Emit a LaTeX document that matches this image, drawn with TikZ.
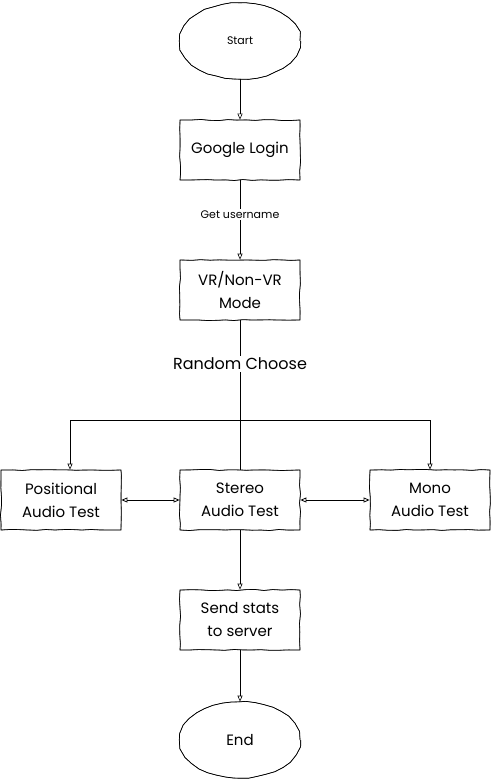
\documentclass[tikz,border=0pt]{standalone}
\usepackage{fontspec}
\setmainfont{Poppins}
\usetikzlibrary{arrows.meta,shapes.geometric,decorations.pathmorphing,calc}
\begin{document}
\begin{tikzpicture}[x=1pt,y=-1pt,
  rough/.style={decorate,decoration={random steps,segment length=9pt,amplitude=0.5pt}},
  box/.style={draw,rough,line width=0.7pt,preaction={draw,rough,line width=0.4pt},
    minimum width=120pt,minimum height=60pt,inner sep=1pt,align=center,
    font=\fontsize{15}{23}\selectfont},
  oval/.style={ellipse,draw,rough,line width=0.7pt,preaction={draw,rough,line width=0.4pt},
    minimum width=120pt,minimum height=76pt,inner sep=0pt,align=center},
  arr/.style={draw,line width=0.6pt,-{Triangle[open,length=6pt,width=5pt]}},
  darr/.style={draw,line width=0.8pt,{Triangle[open,length=6pt,width=5pt]}-{Triangle[open,length=6pt,width=5pt]}},
  lbl/.style={fill=white,inner sep=2pt}]
\useasboundingbox (0,0) rectangle (491,781);
\node[oval,font=\fontsize{11}{13}\selectfont] (start) at (240,41) {Start};
\node[box] (login) at (240,150) {Google Login};
\node[box] (vr) at (240,290) {VR/Non-VR\\Mode};
\node[box] (pos) at (61,500) {Positional\\Audio Test};
\node[box] (ster) at (240,500) {Stereo\\Audio Test};
\node[box] (mono) at (430,500) {Mono\\Audio Test};
\node[box] (send) at (240,620) {Send stats\\to server};
\node[oval,font=\fontsize{15}{18}\selectfont] (end) at (240,740) {End};
\coordinate (split) at (240,420);
\draw[arr] (start) -- (login);
\draw[arr] (login) -- node[lbl,font=\fontsize{11}{13}\selectfont,pos=0.43] (lu) {Get username} (vr);
\draw[line width=0.8pt] (vr) -- node[lbl,font=\fontsize{16}{18}\selectfont,pos=0.29] (lr) {Random Choose} (ster);
\draw[arr] (split) -| ([xshift=9pt]pos.north);
\draw[arr] (split) -| (mono.north);
\draw[darr] (pos) -- (ster);
\draw[darr] (ster) -- (mono);
\draw[arr] (ster) -- (send);
\draw[arr] (send) -- (end);
\end{tikzpicture}
\end{document}
